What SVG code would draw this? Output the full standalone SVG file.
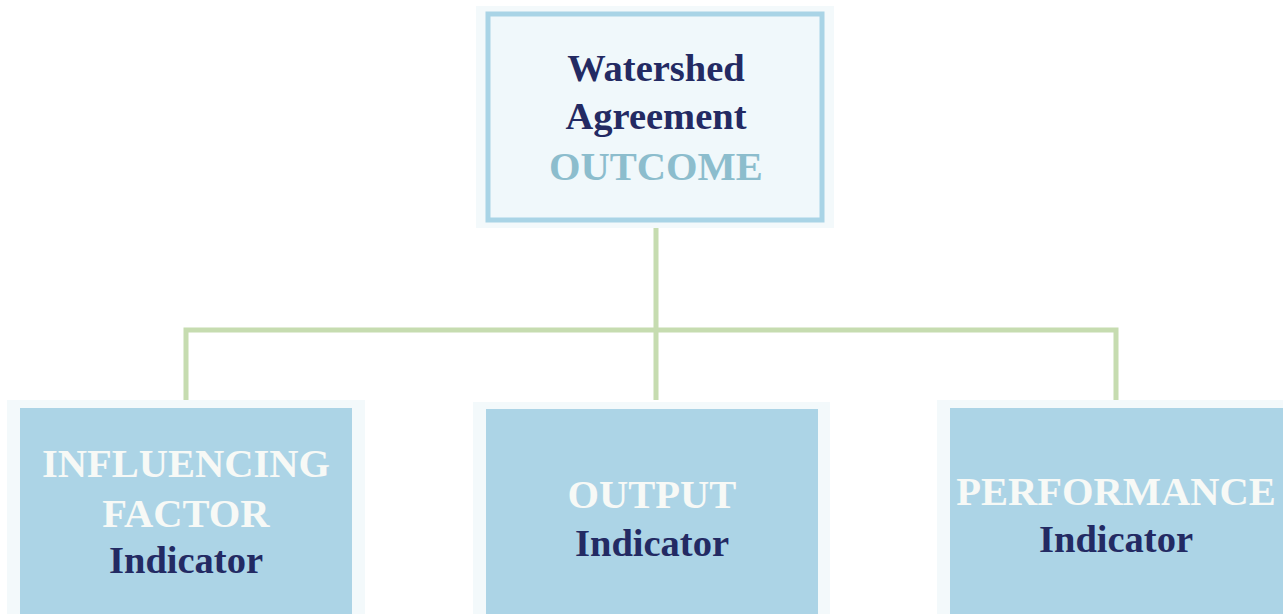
<svg xmlns="http://www.w3.org/2000/svg" width="1283" height="614" viewBox="0 0 1283 614">
<style>
.halo{fill:#f3f9fb}
.top{fill:#f0f8fb;stroke:#a9d4e6;stroke-width:5}
.box{fill:#acd4e6}
.conn{fill:none;stroke:#c6dcb0;stroke-width:5}
text{font-family:"Liberation Serif","Times New Roman",serif;font-weight:bold;text-anchor:middle}
.dark{fill:#232a63;font-size:38.5px}
.teal{fill:#8cbdcd;font-size:40.5px}
.white{fill:#f7f9f6;font-size:40.5px}
</style>
<rect width="1283" height="614" fill="#ffffff"/>
<g id="connectors">
<path class="conn" d="M656 228 V400"/>
<path class="conn" d="M186 400 V330 H1116 V400"/>
</g>
<g id="outcome">
<rect class="halo" x="476" y="6" width="358" height="222"/>
<rect class="top" x="488" y="14" width="334" height="206"/>
<text class="dark" x="656" y="81">Watershed</text>
<text class="dark" x="656" y="129">Agreement</text>
<text class="teal" x="656" y="180">OUTCOME</text>
</g>
<g id="influencing">
<rect class="halo" x="7" y="400" width="358" height="214"/>
<rect class="box" x="20" y="408" width="332" height="206"/>
<text class="white" x="186" y="477">INFLUENCING</text>
<text class="white" x="186" y="527">FACTOR</text>
<text class="dark" x="186" y="573">Indicator</text>
</g>
<g id="output">
<rect class="halo" x="473" y="402" width="357" height="212"/>
<rect class="box" x="486" y="409" width="332" height="205"/>
<text class="white" x="652" y="508">OUTPUT</text>
<text class="dark" x="652" y="556">Indicator</text>
</g>
<g id="performance">
<rect class="halo" x="937" y="400" width="346" height="214"/>
<rect class="box" x="950" y="408" width="333" height="206"/>
<text class="white" x="1116" y="505">PERFORMANCE</text>
<text class="dark" x="1116" y="552">Indicator</text>
</g>
</svg>
